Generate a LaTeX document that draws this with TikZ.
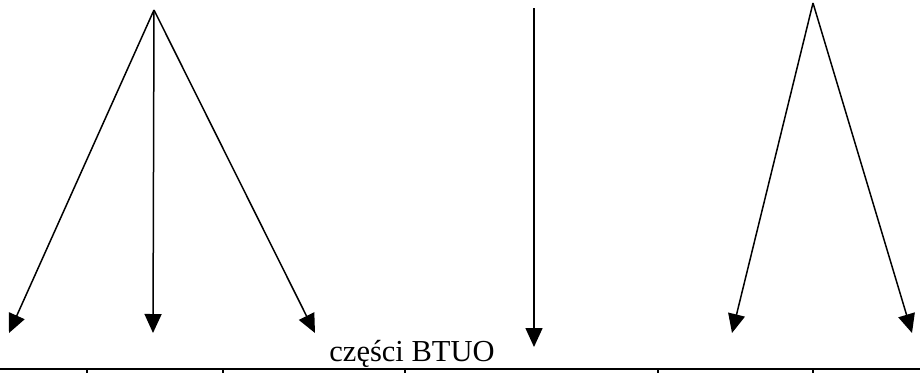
\documentclass[tikz,border=0pt]{standalone}
\usepackage{fontspec}
\setmainfont{Liberation Serif}
\usetikzlibrary{arrows.meta}
\begin{document}
\begin{tikzpicture}[x=1pt,y=-1pt,
  arr/.style={line width=1.5pt,-{Triangle[length=19pt,width=17pt]}},
  rule/.style={line width=1.8pt}]
\useasboundingbox (0,0) rectangle (920,373);
% left group
\coordinate (a1) at (154,10);
\coordinate (l1) at (9,333);
\coordinate (l2) at (153,333);
\coordinate (l3) at (315,333);
\draw[arr] (a1) -- (l1);
\draw[arr] (a1) -- (l2);
\draw[arr] (a1) -- (l3);
% middle arrow
\coordinate (m0) at (534,8);
\coordinate (m1) at (534,347);
\draw[arr] (m0) -- (m1);
% right group
\coordinate (a2) at (813,3);
\coordinate (r1) at (732,333);
\coordinate (r2) at (912,333);
\draw[arr] (a2) -- (r1);
\draw[arr] (a2) -- (r2);
% text
\node[anchor=base,inner sep=0pt,font=\fontsize{30.5}{34}\selectfont] (t) at (412,361) {części BTUO};
% table top
\coordinate (h0) at (0,369);
\coordinate (h1) at (920,369);
\draw[rule] (h0) -- (h1);
\foreach \x in {87,223,405,658,813}{
  \draw[line width=1.2pt] (\x,369) -- (\x,373);
}
\end{tikzpicture}
\end{document}
